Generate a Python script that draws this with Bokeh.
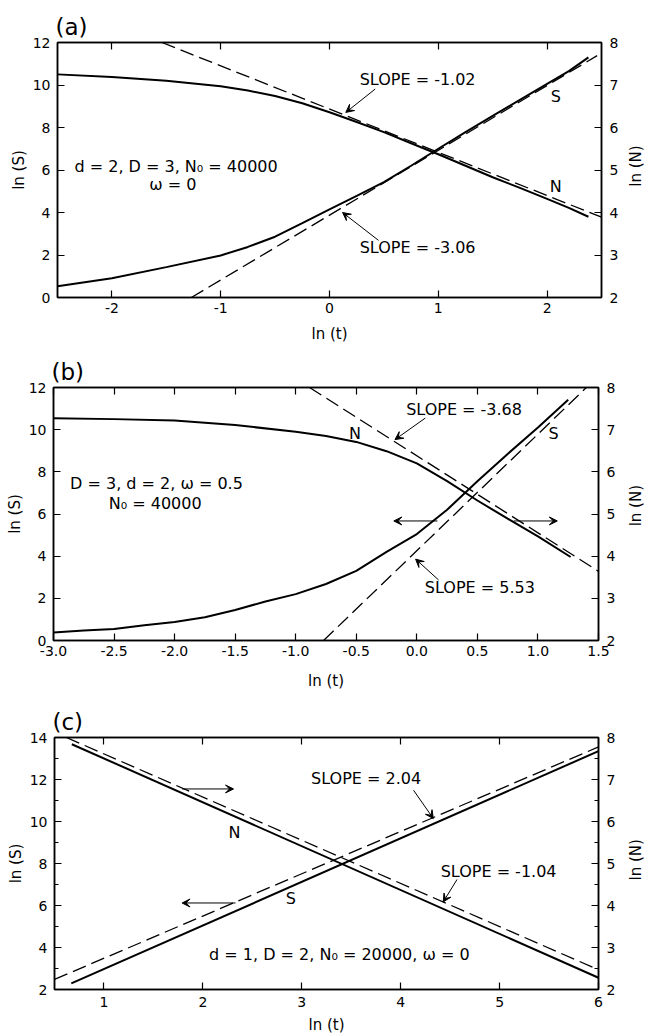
import math
from bokeh.plotting import figure
from bokeh.models import (Range1d, LinearAxis, FixedTicker, Label, Arrow, VeeHead,
                          CustomJSTickFormatter, NumeralTickFormatter)
from bokeh.layouts import column, row
from bokeh.embed import file_html
from bokeh.resources import INLINE

FONT = "DejaVu Sans"

# ---------------- data: panel (a) ----------------
a_t = [-2.5, -2.0, -1.5, -1.0, -0.75, -0.5, -0.25, 0.0, 0.25, 0.5, 0.75, 1.0,
       1.25, 1.5, 1.75, 2.0, 2.2, 2.38]
a_S = [0.53, 0.91, 1.43, 1.98, 2.38, 2.86, 3.50, 4.15, 4.78, 5.43, 6.20, 7.00,
       7.78, 8.55, 9.30, 10.05, 10.65, 11.30]
a_N = [7.25, 7.19, 7.10, 6.97, 6.87, 6.74, 6.57, 6.36, 6.13, 5.89, 5.63, 5.37,
       5.10, 4.83, 4.58, 4.32, 4.11, 3.90]
a_fitS_t = [-1.27, 2.46]
a_fitS = [0.0, 11.38]
a_fitN_t = [-1.54, 2.5]
a_fitN = [8.0, 3.89]

# ---------------- data: panel (b) ----------------
b_tS = [-3.0, -2.75, -2.5, -2.25, -2.0, -1.75, -1.5, -1.25, -1.0, -0.75, -0.5,
        -0.25, 0.0, 0.25, 0.5, 0.75, 1.0, 1.25]
b_S = [0.38, 0.47, 0.55, 0.72, 0.88, 1.10, 1.45, 1.85, 2.20, 2.68, 3.30,
       4.20, 5.05, 6.20, 7.55, 8.85, 10.10, 11.42]
b_tN = [-3.0, -2.5, -2.0, -1.5, -1.0, -0.75, -0.5, -0.25, 0.0, 0.25, 0.5, 0.75,
        1.0, 1.27]
b_N = [7.27, 7.25, 7.22, 7.11, 6.95, 6.85, 6.71, 6.49, 6.20, 5.78, 5.32, 4.89,
       4.47, 3.98]
b_fitS_t = [-0.77, 1.40]
b_fitS = [0.0, 12.0]
b_fitN_t = [-0.886, 1.5]
b_fitN = [8.0, 3.64]

# ---------------- data: panel (c) ----------------
c_tS = [0.67, 6.0]
c_S = [2.29, 13.35]
c_fitS_t = [0.5, 6.0]
c_fitS = [2.48, 13.55]
c_tN = [0.675, 6.0]
c_N = [7.84, 2.28]
c_fitN_t = [0.62, 6.0]
c_fitN = [8.0, 2.47]

# ---------------- ticks ----------------
a_xticks = [-2, -1, 0, 1, 2]
b_xticks = [-3.0, -2.5, -2.0, -1.5, -1.0, -0.5, 0.0, 0.5, 1.0, 1.5]
c_xticks = [1, 2, 3, 4, 5, 6]
ab_yticks = [0, 2, 4, 6, 8, 10, 12]
c_yticks = [2, 4, 6, 8, 10, 12, 14]
c_yminor = [3, 5, 7, 9, 11, 13]
r_ticks = [2, 3, 4, 5, 6, 7, 8]
c_rminor = [2.5, 3.5, 4.5, 5.5, 6.5, 7.5]

TICK_SIZE = "14px"
AXLAB_SIZE = "15px"
TEXT_SIZE = "16px"
PANEL_SIZE = "23px"

MAIN_W = 627
SIDE_W = 646 - MAIN_W


def style_axis(ax, standoff=5, label_standoff=3):
    ax.major_tick_in = 7
    ax.major_tick_out = 0
    ax.minor_tick_in = 4
    ax.minor_tick_out = 0
    ax.axis_line_width = 1.5
    ax.axis_line_color = "black"
    ax.major_tick_line_width = 1.2
    ax.minor_tick_line_width = 1.0
    ax.major_tick_line_color = "black"
    ax.minor_tick_line_color = "black"
    ax.major_label_text_font = FONT
    ax.major_label_text_font_size = TICK_SIZE
    ax.major_label_text_color = "black"
    ax.major_label_standoff = standoff
    ax.axis_label_text_font = FONT
    ax.axis_label_text_font_size = AXLAB_SIZE
    ax.axis_label_text_font_style = "normal"
    ax.axis_label_text_color = "black"
    ax.axis_label_standoff = label_standoff


PLAIN = CustomJSTickFormatter(code="return tick.toString()")


def make_fig(title, xr, yr, yr2, h, bl, frame_right, bt, bb, xticks, yticks, yminor, rminor,
             xfmt=None, bottom_std=(5, 5)):
    p = figure(width=MAIN_W, height=h, x_range=Range1d(*xr), y_range=Range1d(*yr),
               output_backend="svg", toolbar_location=None, title=title,
               min_border_left=bl, min_border_right=MAIN_W - frame_right,
               min_border_top=bt, min_border_bottom=bb)
    p.title.text_font = FONT
    p.title.text_font_size = PANEL_SIZE
    p.title.text_font_style = "normal"
    p.title.text_color = "black"
    p.title.align = "left"
    p.title.standoff = 5
    p.title.offset = -2
    p.extra_y_ranges = {"N": Range1d(*yr2)}
    p.grid.visible = False
    p.outline_line_color = "black"
    p.outline_line_width = 1.5
    p.background_fill_color = "white"
    p.border_fill_color = "white"

    xa = p.xaxis[0]
    xa.ticker = FixedTicker(ticks=xticks)
    xa.formatter = xfmt if xfmt is not None else PLAIN
    xa.axis_label = "ln (t)"
    style_axis(xa, standoff=bottom_std[0], label_standoff=bottom_std[1])

    ya = p.yaxis[0]
    ya.ticker = FixedTicker(ticks=yticks, minor_ticks=yminor)
    ya.formatter = PLAIN
    ya.axis_label = "ln (S)"
    style_axis(ya, standoff=7, label_standoff=2)

    top = LinearAxis(ticker=FixedTicker(ticks=xticks),
                     formatter=CustomJSTickFormatter(code="return ''"))
    style_axis(top, standoff=0)
    p.add_layout(top, "above")

    ra = LinearAxis(y_range_name="N", ticker=FixedTicker(ticks=r_ticks, minor_ticks=rminor),
                    formatter=PLAIN)
    style_axis(ra, standoff=8, label_standoff=7)
    p.add_layout(ra, "right")
    return p


def side_title(h, center_from_top):
    # narrow strip holding the right-axis title, reading bottom-to-top
    s = figure(width=SIDE_W, height=h, x_range=Range1d(0, SIDE_W), y_range=Range1d(0, h),
               output_backend="svg", toolbar_location=None,
               x_axis_type=None, y_axis_type=None,
               min_border_left=0, min_border_right=0, min_border_top=0, min_border_bottom=0)
    s.outline_line_color = None
    s.grid.visible = False
    s.background_fill_color = "white"
    s.border_fill_color = "white"
    s.add_layout(Label(x=SIDE_W / 2 - 1, y=h - center_from_top, text="ln (N)",
                       angle=math.pi / 2, text_font=FONT, text_font_size=AXLAB_SIZE,
                       text_align="center", text_baseline="middle", text_color="black"))
    return s


def txt(p, x, y, s, size=TEXT_SIZE):
    p.add_layout(Label(x=x, y=y, text=s, text_font=FONT, text_font_size=size,
                       text_align="center", text_baseline="middle", text_color="black"))


def arr(p, x0, y0, x1, y1):
    p.add_layout(Arrow(end=VeeHead(size=8, fill_color="black", line_color="black", line_width=1),
                       x_start=x0, y_start=y0, x_end=x1, y_end=y1,
                       line_color="black", line_width=1))


SOLID = dict(line_color="black", line_width=2.0)
DASH = dict(line_color="black", line_width=1.3, line_dash="14 6")

# ---------------- panel (a) ----------------
pa = make_fig("(a)", (-2.5, 2.5), (0, 12), (2, 8), 350, 57, 601, 42, 53,
              a_xticks, ab_yticks, [], [], bottom_std=(5, 9))
pa.line(a_t, a_S, **SOLID)
pa.line(a_t, a_N, y_range_name="N", **SOLID)
pa.line(a_fitS_t, a_fitS, **DASH)
pa.line(a_fitN_t, a_fitN, y_range_name="N", **DASH)
txt(pa, 0.81, 10.25, "SLOPE = -1.02")
arr(pa, 0.42, 9.81, 0.15, 8.71)
txt(pa, 0.81, 2.36, "SLOPE = -3.06")
arr(pa, 0.45, 2.69, 0.12, 4.0)
txt(pa, 2.08, 9.45, "S")
txt(pa, 2.08, 5.23, "N")
txt(pa, -1.41, 6.16, "d = 2, D = 3, N₀ = 40000")
txt(pa, -1.44, 5.34, "ω = 0")
sa = side_title(350, 42 + 127.5)

# ---------------- panel (b) ----------------
pb = make_fig("(b)", (-3.0, 1.5), (0, 12), (2, 8), 350, 53, 598, 37, 60,
              b_xticks, ab_yticks, [], [], xfmt=NumeralTickFormatter(format="0.0"),
              bottom_std=(5, 13))
pb.line(b_tS, b_S, **SOLID)
pb.line(b_tN, b_N, y_range_name="N", **SOLID)
pb.line(b_fitS_t, b_fitS, **DASH)
pb.line(b_fitN_t, b_fitN, y_range_name="N", **DASH)
txt(pb, 0.39, 10.98, "SLOPE = -3.68")
arr(pb, 0.07, 10.55, -0.18, 9.53)
txt(pb, 0.52, 2.5, "SLOPE = 5.53")
arr(pb, 0.18, 2.87, -0.01, 3.86)
txt(pb, -0.51, 9.84, "N")
txt(pb, 1.13, 9.84, "S")
txt(pb, -2.15, 7.44, "D = 3, d = 2, ω = 0.5")
txt(pb, -2.16, 6.5, "N₀ = 40000")
arr(pb, 0.17, 5.67, -0.19, 5.67)
arr(pb, 0.80, 5.67, 1.16, 5.67)
sb = side_title(350, 37 + 126.5)

# ---------------- panel (c) ----------------
pc = make_fig("(c)", (0.5, 6.0), (2, 14), (2, 8), 336, 54, 598, 37, 47,
              c_xticks, c_yticks, c_yminor, c_rminor, bottom_std=(7, 6))
pc.line(c_tS, c_S, **SOLID)
pc.line(c_tN, c_N, y_range_name="N", **SOLID)
pc.line(c_fitS_t, c_fitS, **DASH)
pc.line(c_fitN_t, c_fitN, y_range_name="N", **DASH)
txt(pc, 3.65, 12.06, "SLOPE = 2.04")
arr(pc, 4.13, 11.49, 4.33, 10.14)
txt(pc, 4.99, 7.62, "SLOPE = -1.04")
arr(pc, 4.57, 7.24, 4.43, 6.17)
txt(pc, 2.32, 9.46, "N")
txt(pc, 2.89, 6.33, "S")
txt(pc, 3.38, 3.68, "d = 1, D = 2, N₀ = 20000, ω = 0")
arr(pc, 1.79, 11.55, 2.31, 11.55)
arr(pc, 2.33, 6.12, 1.79, 6.12)
sc = side_title(336, 37 + 126)

layout = column(row(pa, sa), row(pb, sb), row(pc, sc))
open("out.html", "w").write(file_html(layout, INLINE))
